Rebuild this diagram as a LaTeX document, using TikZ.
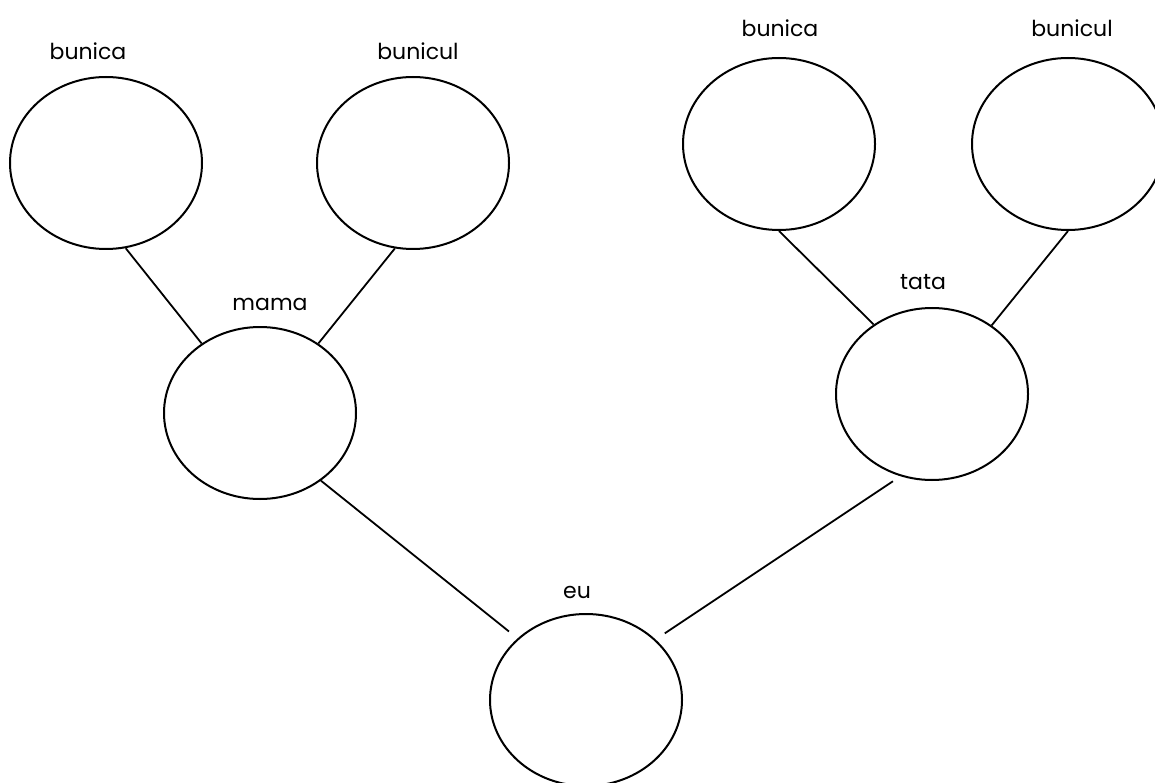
\documentclass[tikz,border=0pt]{standalone}
\usepackage{fontspec}
\setmainfont{Poppins}
\usetikzlibrary{shapes}
\usetikzlibrary{positioning}

\begin{document}
\begin{tikzpicture}[
        x=1pt, y=-1pt,
        person/.style = {draw,
                         ellipse,
                         line width=2pt,
                         minimum width=192pt,
                         minimum height=172pt},
        personname/.style = {anchor=base, inner sep=0pt,
                             font=\fontsize{22}{26}\selectfont},
        link/.style = {line width=1.8pt}
        ]
        \useasboundingbox (0,0) rectangle (1155,783);
        % bunici din partea mamei
        \node[person] (GrandmaM) at (106,163) {};
        \node[person] (GrandpaM) at (413,163) {};
        % bunici din partea tatalui
        \node[person] (GrandmaT) at (779,144) {};
        \node[person] (GrandpaT) at (1068,144) {};
        % parinti si copil
        \node[person] (Mama) at (260,413) {};
        \node[person] (Tata) at (932,394) {};
        \node[person] (Eu) at (586,700) {};
        % nume
        \node[personname] (GrandmaMName) at (88,60) {bunica};
        \node[personname] (GrandpaMName) at (418,60) {bunicul};
        \node[personname] (GrandmaTName) at (780,37) {bunica};
        \node[personname] (GrandpaTName) at (1072,37) {bunicul};
        \node[personname] (MamaName) at (270,310) {mama};
        \node[personname] (TataName) at (923,290) {tata};
        \node[personname] (EuName) at (577,598) {eu};
        % legaturi
        \draw[link] (GrandmaM.-77.5) -- (Mama.130.5);
        \draw[link] (GrandpaM.-102.5) -- (Mama.50);
        \draw[link] (GrandmaT.-90) -- (Tata.130.5);
        \draw[link] (GrandpaT.-90.5) -- (Tata.49);
        \draw[link, shorten >=11pt] (Mama.-48.2) -- (Eu.138.7);
        \draw[link, shorten <=9pt, shorten >=11pt] (Tata.-111.4) -- (Eu.41.9);
\end{tikzpicture}
\end{document}
